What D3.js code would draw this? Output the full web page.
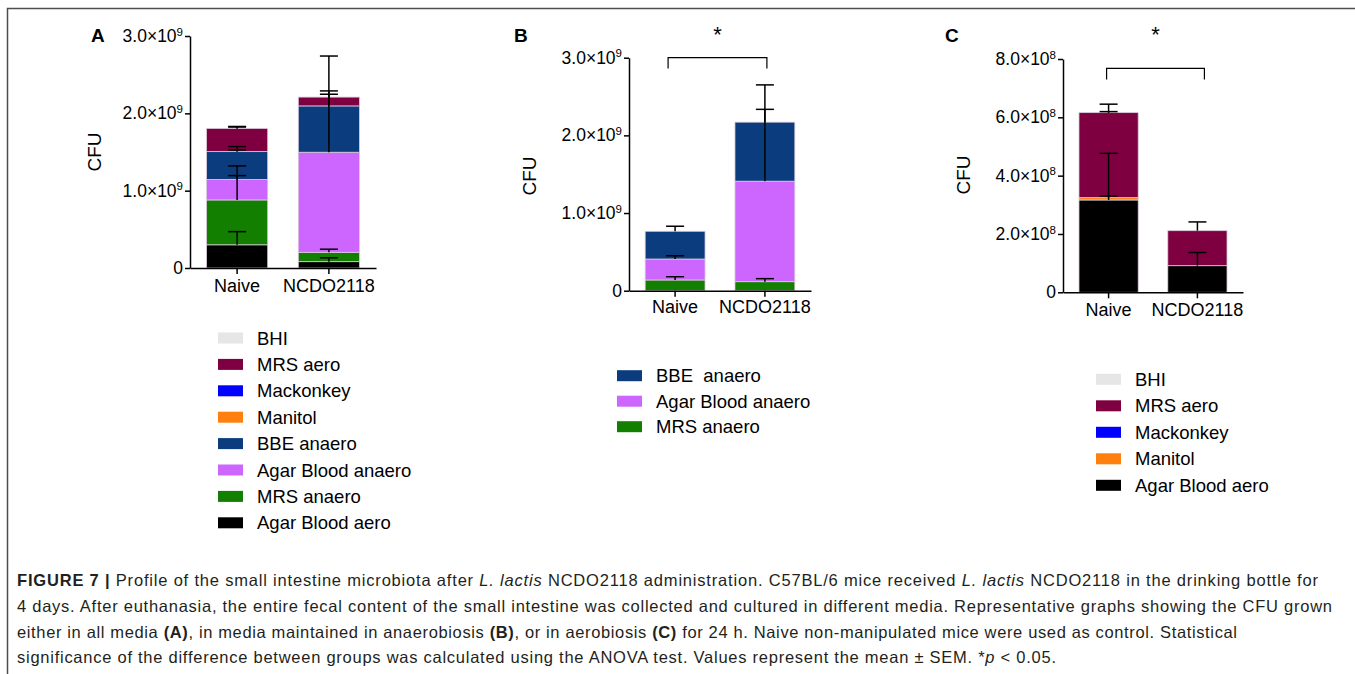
<!DOCTYPE html>
<html>
<head>
<meta charset="utf-8">
<script src="https://cdn.jsdelivr.net/npm/d3@7"></script>
<style>
  body { margin: 0; background: #fff; }
  svg { display: block; font-family: "Liberation Sans", Arial, sans-serif; }
  .legend text { white-space: pre; }
</style>
</head>
<body>
<div class="figure"></div>
<script>
var width = 1355;
var height = 674;

// groups on the x axis
var groups = ["Naive", "NCDO2118"];

// panel A, stacks listed bottom to top
var seriesA = ["Agar Blood aero", "MRS anaero", "Agar Blood anaero", "BBE anaero", "Manitol", "Mackonkey", "MRS aero", "BHI"];
var naiveA = [0.30e9, 0.58e9, 0.265e9, 0.36e9, 0, 0, 0.30e9, 0];
var ncdoA = [0.082e9, 0.121e9, 1.294e9, 0.599e9, 0, 0, 0.114e9, 0];
var errNaiveA = [0.17e9, 0.44e9, 0.05e9, 0.065e9, 0.022e9, 0, 0.025e9, 0.018e9];
var errNcdoA = [0.05e9, 0.04e9, 0.75e9, 0.645e9, 0, 0, 0.08e9, 0];
var ticksA = [0, 1e9, 2e9, 3e9];

// panel B
var seriesB = ["MRS anaero", "Agar Blood anaero", "BBE anaero"];
var naiveB = [0.138e9, 0.27e9, 0.357e9];
var ncdoB = [0.116e9, 1.294e9, 0.76e9];
var errNaiveB = [0.042e9, 0.042e9, 0.065e9];
var errNcdoB = [0.039e9, 0.925e9, 0.48e9];
var ticksB = [0, 1e9, 2e9, 3e9];
var legendB = ["BBE  anaero", "Agar Blood anaero", "MRS anaero"];

// panel C
var seriesC = ["Agar Blood aero", "Manitol", "Mackonkey", "MRS aero", "BHI"];
var naiveC = [3.166e8, 0.08e8, 0, 2.915e8, 0];
var ncdoC = [0.913e8, 0, 0, 1.2e8, 0];
var errNaiveC = [0.134e8, 0, 1.52e8, 0.29e8, 0.035e8];
var errNcdoC = [0.45e8, 0, 0, 0.30e8, 0];
var ticksC = [0, 2e8, 4e8, 6e8, 8e8];

var colors = {
  "BHI": "#e6e6e6",
  "MRS aero": "#7f0040",
  "Mackonkey": "#0000ff",
  "Manitol": "#ff7f0f",
  "BBE anaero": "#0b3d7e",
  "Agar Blood anaero": "#cc66ff",
  "MRS anaero": "#127f00",
  "Agar Blood aero": "#000000"
};

var svg = d3
  .select(".figure")
  .append("svg")
  .attr("width", width)
  .attr("height", height);

// frame of the figure
svg.append("path")
  .attr("d", "M7.5,674 V8.5 H1355")
  .attr("fill", "none")
  .attr("stroke", "#4d4d4d")
  .attr("stroke-width", 1.5);

drawPanel({
  letter: "A", letterX: 91, cfuX: 101, cfuY: 152,
  range: [190, 376], yRange: [268, 36], max: 3e9, exp: 9, ticks: ticksA,
  series: seriesA, values: [naiveA, ncdoA], errors: [errNaiveA, errNcdoA],
  labelPad: 5.5,
  legend: seriesA.slice().reverse(), legendX: 218, legendY: 338, legendStep: 26.4
});

drawPanel({
  letter: "B", letterX: 514, cfuX: 536, cfuY: 176,
  range: [629, 811], yRange: [290.7, 57.7], max: 3e9, exp: 9, ticks: ticksB,
  series: seriesB, values: [naiveB, ncdoB], errors: [errNaiveB, errNcdoB],
  labelPad: 4,
  legend: legendB, legendColors: ["BBE anaero", "Agar Blood anaero", "MRS anaero"],
  legendX: 617, legendY: 375.7, legendStep: 25.5,
  bracket: { y: 3.0e9, leg: 2.86e9, starY: 42, x0: -7, x1: 2 }
});

drawPanel({
  letter: "C", letterX: 945, cfuX: 970, cfuY: 175,
  range: [1063, 1243], yRange: [292.3, 59], max: 8e8, exp: 8, ticks: ticksC,
  series: seriesC, values: [naiveC, ncdoC], errors: [errNaiveC, errNcdoC],
  labelPad: 5,
  legend: seriesC.slice().reverse(), legendX: 1096, legendY: 379.3, legendStep: 26.5,
  bracket: { y: 7.68e8, leg: 7.3e8, starY: 42, x0: -2, x1: 7 }
});

drawCaption();

function drawPanel(p) {
  var g = svg.append("g").attr("class", "panel-" + p.letter);

  var x = d3.scaleBand()
    .domain(groups)
    .range(p.range)
    .paddingInner(1 / 3)
    .paddingOuter(0.18);

  var y = d3.scaleLinear()
    .domain([0, p.max])
    .range(p.yRange);

  // stack the segments
  var rows = groups.map(function (grp, i) {
    var row = { group: grp };
    p.series.forEach(function (s, j) { row[s] = p.values[i][j]; });
    return row;
  });
  var stacked = d3.stack().keys(p.series)(rows);

  g.append("g")
    .selectAll("g")
    .data(stacked)
    .enter()
    .append("g")
    .attr("fill", function (d) { return colors[d.key]; })
    .selectAll("rect")
    .data(function (d) { return d; })
    .enter()
    .filter(function (d) { return d[1] > d[0]; })
    .append("rect")
    .attr("x", function (d) { return x(d.data.group); })
    .attr("width", x.bandwidth())
    .attr("y", function (d) { return y(d[1]); })
    .attr("height", function (d) { return y(d[0]) - y(d[1]); })
    .attr("stroke", "#dccbdc")
    .attr("stroke-width", 0.8);

  // error bars, one per segment, going up from its top
  var errs = [];
  stacked.forEach(function (layer, j) {
    layer.forEach(function (d, i) {
      var e = p.errors[i][j];
      if (e > 0) errs.push({ group: groups[i], top: d[1], err: e });
    });
  });
  var eg = g.append("g").attr("stroke", "#000").attr("stroke-width", 1.5);
  errs.forEach(function (d) {
    var cx = x(d.group) + x.bandwidth() / 2;
    eg.append("line")
      .attr("x1", cx).attr("x2", cx)
      .attr("y1", y(d.top)).attr("y2", y(d.top + d.err));
    eg.append("line")
      .attr("x1", cx - 9).attr("x2", cx + 9)
      .attr("y1", y(d.top + d.err)).attr("y2", y(d.top + d.err));
  });

  // y axis
  var yAxis = d3.axisLeft(y)
    .tickValues(p.ticks)
    .tickSizeInner(5)
    .tickSizeOuter(0)
    .tickPadding(2);
  var ya = g.append("g")
    .attr("transform", "translate(" + p.range[0] + ",0)")
    .call(yAxis);
  ya.selectAll(".tick text")
    .attr("font-size", "17.5px")
    .attr("fill", "#000")
    .each(function (d) {
      var t = d3.select(this);
      t.text(null);
      if (d === 0) {
        t.text("0");
      } else {
        t.append("tspan").text((d / Math.pow(10, p.exp)).toFixed(1) + "\u00d710");
        t.append("tspan").attr("dy", "-0.55em").attr("font-size", "11.5px").text(p.exp);
      }
    });

  // x axis
  var xAxis = d3.axisBottom(x).tickSizeInner(6).tickSizeOuter(0).tickPadding(p.labelPad);
  var xa = g.append("g")
    .attr("transform", "translate(0," + p.yRange[0] + ")")
    .call(xAxis);
  xa.selectAll(".tick text").attr("font-size", "18px").attr("fill", "#000");

  [ya, xa].forEach(function (a) {
    a.select(".domain").attr("stroke", "#000").attr("stroke-width", 1.5);
    a.selectAll(".tick line").attr("stroke", "#000").attr("stroke-width", 1.5);
  });

  // axis title
  g.append("text")
    .attr("transform", "translate(" + p.cfuX + "," + p.cfuY + ") rotate(-90)")
    .attr("text-anchor", "middle")
    .attr("font-size", "19px")
    .text("CFU");

  // panel letter
  g.append("text")
    .attr("x", p.letterX)
    .attr("y", 42)
    .attr("font-size", "19px")
    .attr("font-weight", "bold")
    .text(p.letter);

  // significance bracket
  if (p.bracket) {
    var b = p.bracket;
    var bx0 = x(groups[0]) + x.bandwidth() / 2 + b.x0;
    var bx1 = x(groups[1]) + x.bandwidth() / 2 + b.x1;
    g.append("path")
      .attr("d", "M" + bx0 + "," + y(b.leg) + " V" + y(b.y) + " H" + bx1 + " V" + y(b.leg))
      .attr("fill", "none")
      .attr("stroke", "#000")
      .attr("stroke-width", 1.2);
    g.append("text")
      .attr("x", (bx0 + bx1) / 2)
      .attr("y", b.starY)
      .attr("text-anchor", "middle")
      .attr("font-size", "22px")
      .text("*");
  }

  // legend
  var lg = g.append("g").attr("class", "legend");
  p.legend.forEach(function (name, i) {
    var key = p.legendColors ? p.legendColors[i] : name;
    var cy = p.legendY + i * p.legendStep;
    lg.append("rect")
      .attr("x", p.legendX)
      .attr("y", cy - 5.5)
      .attr("width", 25)
      .attr("height", 11)
      .attr("fill", colors[key]);
    lg.append("text")
      .attr("x", p.legendX + 39)
      .attr("y", cy + 6.5)
      .attr("font-size", "18.5px")
      .text(name);
  });
}

function drawCaption() {
  var lines = [
    [["FIGURE 7 | ", "b"], ["Profile of the small intestine microbiota after "], ["L. lactis", "i"],
     [" NCDO2118 administration. C57BL/6 mice received "], ["L. lactis", "i"],
     [" NCDO2118 in the drinking bottle for"]],
    [["4 days. After euthanasia, the entire fecal content of the small intestine was collected and cultured in different media. Representative graphs showing the CFU grown"]],
    [["either in all media "], ["(A)", "b"], [", in media maintained in anaerobiosis "], ["(B)", "b"],
     [", or in aerobiosis "], ["(C)", "b"], [" for 24 h. Naive non-manipulated mice were used as control. Statistical"]],
    [["significance of the difference between groups was calculated using the ANOVA test. Values represent the mean \u00b1 SEM. *"],
     ["p", "i"], [" < 0.05."]]
  ];
  var lineY = [585.5, 612, 638, 663];
  var lineW = [1301, 1315, 1220, 1039];

  var cap = svg.append("g").attr("class", "caption");
  lines.forEach(function (parts, i) {
    var t = cap.append("text")
      .attr("x", 17)
      .attr("y", lineY[i])
      .attr("font-size", "16.5px")
      .attr("fill", "#231f20")
      .attr("textLength", lineW[i])
      .attr("lengthAdjust", "spacing")
      .style("white-space", "pre");
    parts.forEach(function (part) {
      var s = t.append("tspan").text(part[0]);
      if (part[1] === "b") s.attr("font-weight", "bold");
      if (part[1] === "i") s.attr("font-style", "italic");
    });
  });
}
</script>
</body>
</html>
